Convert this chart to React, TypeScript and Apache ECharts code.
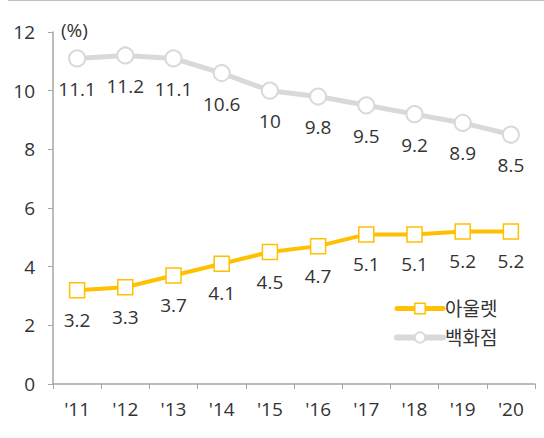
import React, { useEffect, useRef } from "react";
import * as echarts from "echarts";

const categories = ["'11", "'12", "'13", "'14", "'15", "'16", "'17", "'18", "'19", "'20"];
const outletValues = [3.2, 3.3, 3.7, 4.1, 4.5, 4.7, 5.1, 5.1, 5.2, 5.2];
const deptValues = [11.1, 11.2, 11.1, 10.6, 10, 9.8, 9.5, 9.2, 8.9, 8.5];
const seriesNames = ["아울렛", "백화점"];
const unitLabel = "(%)";

const FONT = "'Open Sans', 'Noto Sans CJK KR', sans-serif";
const TEXT = "#333333";
const FS = 19;
const YELLOW = "#FFC000";
const GRAY = "#D9D9D9";

export default function App() {
  const ref = useRef<HTMLDivElement>(null);
  useEffect(() => {
    if (!ref.current) return;
    const chart = echarts.init(ref.current, null, { renderer: "svg" });
    chart.setOption({
      animation: false,
      textStyle: { fontFamily: FONT },
      grid: { left: 53, right: 9, top: 32, bottom: 54 },
      legend: {
        orient: "vertical",
        left: 389,
        top: 294,
        itemWidth: 46,
        itemHeight: 13,
        itemGap: 10,
        textStyle: { fontSize: FS, color: TEXT, fontFamily: FONT, padding: [0, 0, 0, -3] },
        data: [
          { name: seriesNames[0], itemStyle: { color: "#fff", borderColor: YELLOW, borderWidth: 1.5 }, lineStyle: { color: YELLOW, width: 5, cap: "round" } },
          { name: seriesNames[1], itemStyle: { color: "#fff", borderColor: GRAY, borderWidth: 2 }, lineStyle: { color: GRAY, width: 6, cap: "round" } },
        ],
      },
      graphic: [
        { type: "line", shape: { x1: 8, y1: 0.5, x2: 544, y2: 0.5 }, style: { stroke: "#bfbfbf", lineWidth: 1 } },
        { type: "text", left: 61, top: 20, style: { text: unitLabel, fontSize: FS, fill: TEXT, fontFamily: FONT } },
      ],
      xAxis: {
        type: "category",
        data: categories,
        boundaryGap: true,
        axisLine: { lineStyle: { color: "#a6a6a6", width: 1.5 } },
        axisTick: { show: true, length: 5, lineStyle: { color: "#a6a6a6" } },
        axisLabel: { fontSize: FS, color: TEXT, margin: 15, fontFamily: FONT },
      },
      yAxis: {
        type: "value",
        min: 0,
        max: 12,
        interval: 2,
        splitLine: { show: false },
        axisLine: { show: true, lineStyle: { color: "#a6a6a6", width: 1.5 } },
        axisTick: { show: true, length: 5, lineStyle: { color: "#a6a6a6" } },
        axisLabel: { fontSize: FS, color: TEXT, margin: 18, fontFamily: FONT },
      },
      series: [
        {
          name: seriesNames[0],
          type: "line",
          data: outletValues,
          symbol: "rect",
          symbolSize: 15,
          z: 3,
          lineStyle: { color: YELLOW, width: 4 },
          itemStyle: { color: "#FFFFFF", borderColor: YELLOW, borderWidth: 1.5 },
          label: { show: true, position: "bottom", distance: 12, fontSize: FS, color: TEXT, fontFamily: FONT },
        },
        {
          name: seriesNames[1],
          type: "line",
          data: deptValues,
          symbol: "circle",
          symbolSize: 16,
          z: 2,
          lineStyle: { color: GRAY, width: 5 },
          itemStyle: { color: "#FFFFFF", borderColor: GRAY, borderWidth: 2 },
          label: { show: true, position: "bottom", distance: 12, fontSize: FS, color: TEXT, fontFamily: FONT },
        },
      ],
    });
    return () => chart.dispose();
  }, []);
  return <div ref={ref} style={{ position: "fixed", left: 0, top: 0, width: 544, height: 438, background: "#fff" }} />;
}
